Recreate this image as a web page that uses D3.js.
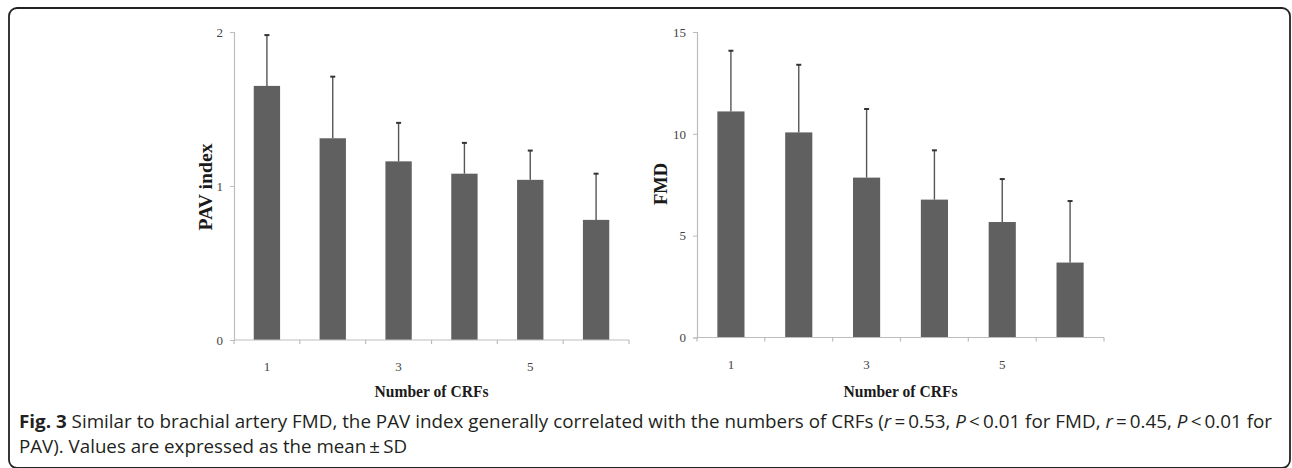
<!DOCTYPE html>
<html>
<head>
<meta charset="utf-8">
<script src="https://cdn.jsdelivr.net/npm/d3@7"></script>
<style>
  html, body { margin: 0; padding: 0; background: #fff; }
  svg { display: block; }
</style>
</head>
<body>
<svg id="chart" width="1292" height="468"></svg>
<script>
// ---- data ----
const categories = ["1", "2", "3", "4", "5", "6"];
const tickLabelsX = ["1", "3", "5"];
const pavMean = [1.65, 1.31, 1.16, 1.08, 1.04, 0.78];
const pavUpper = [1.98, 1.71, 1.41, 1.28, 1.23, 1.08];
const fmdMean = [11.1, 10.07, 7.85, 6.77, 5.67, 3.68];
const fmdUpper = [14.08, 13.39, 11.22, 9.19, 7.78, 6.7];
const pavTicks = [0, 1, 2];
const fmdTicks = [0, 5, 10, 15];
const captionBold = "Fig. 3";
const captionLine1 = " Similar to brachial artery FMD, the PAV index generally correlated with the numbers of CRFs (";
const captionLine2 = "PAV). Values are expressed as the mean\u2009\u00b1\u2009SD";

const svg = d3.select("#chart");

// frame
svg.append("rect")
  .attr("x", 9).attr("y", 8).attr("width", 1281).attr("height", 460)
  .attr("rx", 8).attr("ry", 8)
  .attr("fill", "none").attr("stroke", "#222").attr("stroke-width", 1.8);

function drawPanel(opts) {
  const g = svg.append("g");
  const x = d3.scaleBand().domain(categories)
    .range([opts.x0, opts.x1]).paddingInner(0.6).paddingOuter(0.3);
  const y = d3.scaleLinear().domain(opts.domain).range([opts.y0, opts.yTop]);

  // bars
  g.selectAll("rect.bar").data(opts.mean).join("rect")
    .attr("class", "bar")
    .attr("x", (d, i) => x(categories[i]))
    .attr("y", d => y(d))
    .attr("width", x.bandwidth())
    .attr("height", d => y(0) - y(d))
    .attr("fill", "#606060");

  // error bars (upper only)
  const cx = i => x(categories[i]) + x.bandwidth() / 2;
  g.selectAll("line.err").data(opts.upper).join("line")
    .attr("class", "err")
    .attr("x1", (d, i) => cx(i)).attr("x2", (d, i) => cx(i))
    .attr("y1", (d, i) => y(opts.mean[i])).attr("y2", d => y(d))
    .attr("stroke", "#555").attr("stroke-width", 1.4);
  g.selectAll("line.cap").data(opts.upper).join("line")
    .attr("class", "cap")
    .attr("x1", (d, i) => cx(i) - 2.5).attr("x2", (d, i) => cx(i) + 2.5)
    .attr("y1", d => y(d)).attr("y2", d => y(d))
    .attr("stroke", "#333").attr("stroke-width", 2);

  // y axis
  const yAxis = g.append("g")
    .attr("transform", `translate(${opts.x0},0)`)
    .call(d3.axisLeft(y).tickValues(opts.ticks).tickSize(4).tickPadding(7).tickFormat(d3.format("d")));
  yAxis.select(".domain").attr("stroke", "#bdbdbd").attr("stroke-width", 1.2);
  yAxis.selectAll(".tick line").attr("stroke", "#bdbdbd");
  yAxis.selectAll(".tick text")
    .attr("font-family", "Liberation Serif, Times New Roman, serif")
    .attr("font-size", 13).attr("fill", "#444");

  // x axis: line, boundary ticks
  const xAxisG = g.append("g");
  xAxisG.append("line")
    .attr("x1", opts.x0).attr("x2", opts.x1)
    .attr("y1", y(0)).attr("y2", y(0))
    .attr("stroke", "#bdbdbd").attr("stroke-width", 1.2);
  const bounds = categories.map((c, i) => x(c) - x.step() * x.paddingOuter()).concat([opts.x1]);
  xAxisG.selectAll("line.xt").data(bounds).join("line")
    .attr("class", "xt")
    .attr("x1", d => d).attr("x2", d => d)
    .attr("y1", y(0)).attr("y2", y(0) + 4)
    .attr("stroke", "#bdbdbd").attr("stroke-width", 1.2);
  xAxisG.selectAll("text.xl").data(tickLabelsX).join("text")
    .attr("class", "xl")
    .attr("x", d => x(d) + x.bandwidth() / 2)
    .attr("y", y(0) + 31)
    .attr("text-anchor", "middle")
    .attr("font-family", "Liberation Serif, Times New Roman, serif")
    .attr("font-size", 13).attr("fill", "#444")
    .text(d => d);

  // axis titles
  const xMid = (opts.x0 + opts.x1) / 2;
  g.append("text")
    .attr("x", xMid).attr("y", 397)
    .attr("text-anchor", "middle")
    .attr("font-family", "Liberation Serif, Times New Roman, serif")
    .attr("font-weight", "bold").attr("font-size", 17.5).attr("fill", "#1a1a1a")
    .attr("textLength", 114).attr("lengthAdjust", "spacingAndGlyphs")
    .text("Number of CRFs");
  g.append("text")
    .attr("transform", `translate(${opts.titleX},${opts.titleY}) rotate(-90)`)
    .attr("text-anchor", "middle")
    .attr("font-family", "Liberation Serif, Times New Roman, serif")
    .attr("font-weight", "bold").attr("font-size", 18).attr("fill", "#1a1a1a")
    .attr("textLength", opts.titleLen).attr("lengthAdjust", "spacingAndGlyphs")
    .text(opts.title);
}

drawPanel({
  x0: 234, x1: 629, y0: 340, yTop: 32, domain: [0, 2],
  mean: pavMean, upper: pavUpper, ticks: pavTicks,
  title: "PAV index", titleX: 212, titleY: 187, titleLen: 87
});
drawPanel({
  x0: 697, x1: 1104, y0: 337.5, yTop: 32, domain: [0, 15],
  mean: fmdMean, upper: fmdUpper, ticks: fmdTicks,
  title: "FMD", titleX: 667, titleY: 184, titleLen: 42
});

// caption
const cap = svg.append("g")
  .attr("font-family", "Open Sans, Noto Sans, sans-serif")
  .attr("font-size", 17.5).attr("fill", "#231f20");
const t1 = cap.append("text").attr("x", 19).attr("y", 428)
  .attr("textLength", 1253).attr("lengthAdjust", "spacingAndGlyphs");
t1.append("tspan").attr("font-weight", "bold").text(captionBold);
t1.append("tspan").text(captionLine1);
t1.append("tspan").attr("font-style", "italic").text("r");
t1.append("tspan").text("\u2009=\u20090.53, ");
t1.append("tspan").attr("font-style", "italic").text("P");
t1.append("tspan").text("\u2009<\u20090.01 for FMD, ");
t1.append("tspan").attr("font-style", "italic").text("r");
t1.append("tspan").text("\u2009=\u20090.45, ");
t1.append("tspan").attr("font-style", "italic").text("P");
t1.append("tspan").text("\u2009<\u20090.01 for");
cap.append("text").attr("x", 19).attr("y", 453)
  .attr("textLength", 388).attr("lengthAdjust", "spacingAndGlyphs")
  .text(captionLine2);
</script>
</body>
</html>
